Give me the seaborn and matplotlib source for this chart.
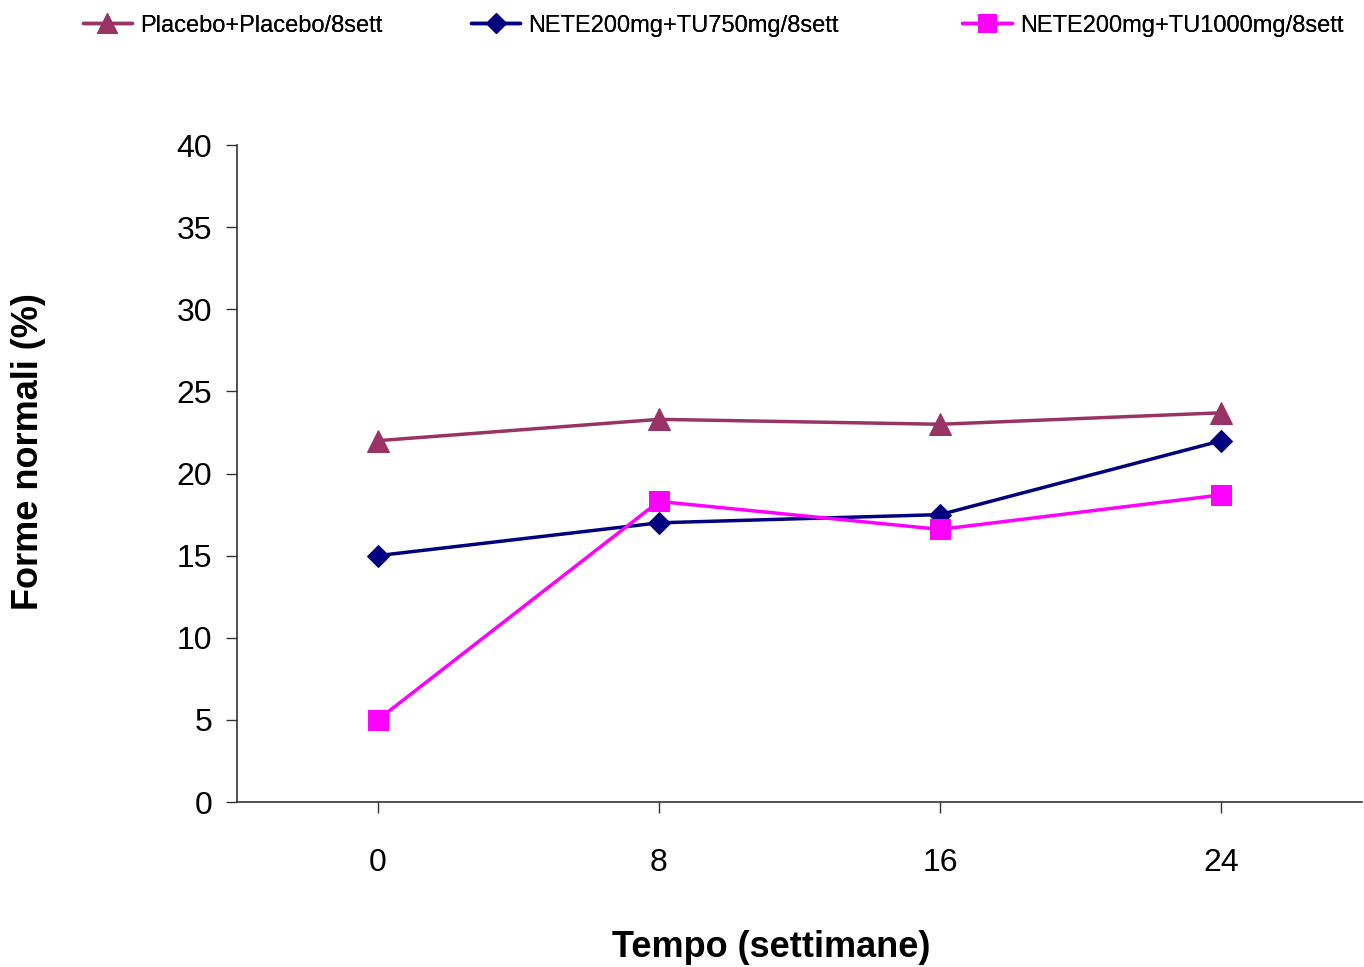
import matplotlib
matplotlib.use("Agg")
import matplotlib.pyplot as plt
import seaborn as sns
import pandas as pd

weeks = [0, 8, 16, 24]
series_names = ["Placebo+Placebo/8sett", "NETE200mg+TU750mg/8sett", "NETE200mg+TU1000mg/8sett"]
placebo = [22.0, 23.3, 23.0, 23.7]
nete750 = [15.0, 17.0, 17.5, 22.0]
nete1000 = [5.0, 18.3, 16.6, 18.7]
colors = ["#993366", "#000080", "#FF00FF"]
markers = ["^", "D", "s"]
msizes = [16, 11, 14]

rows = []
for name, vals in zip(series_names, [placebo, nete750, nete1000]):
    for w, v in zip(weeks, vals):
        rows.append({"Tempo": w, "Valore": v, "Serie": name})
df = pd.DataFrame(rows)

sns.set_style("white")
plt.rcParams["font.family"] = ["Liberation Sans", "DejaVu Sans"]
plt.rcParams["text.color"] = "black"
plt.rcParams["axes.labelcolor"] = "black"
plt.rcParams["xtick.color"] = "black"
plt.rcParams["ytick.color"] = "black"

fig = plt.figure(figsize=(13.64, 9.67), dpi=100)
ax = fig.add_axes([0.1738, 0.1706, 0.8247, 0.6794])

for name, c, m, ms in zip(series_names, colors, markers, msizes):
    sub = df[df["Serie"] == name]
    sns.lineplot(data=sub, x="Tempo", y="Valore", ax=ax, color=c, marker=m,
                 markersize=ms, markeredgecolor=c, linewidth=2.5, label=name,
                 legend=False)

ax.set_xlim(-4, 28)
ax.set_ylim(0, 40)
ax.set_yticks(range(0, 41, 5))
ax.set_xticks(weeks)
ax.set_xticklabels([str(w) for w in weeks])
for s in ["top", "right"]:
    ax.spines[s].set_visible(False)
for s in ["left", "bottom"]:
    ax.spines[s].set_color("#333333")
    ax.spines[s].set_linewidth(1.2)
ax.tick_params(axis="y", direction="out", length=8, width=1, color="#333333",
               labelsize=23, pad=10, left=True, labelcolor="black")
ax.tick_params(axis="x", direction="out", length=8, width=1, color="#333333",
               labelsize=23, pad=25, bottom=True, labelcolor="black")
ax.set_xlabel("Tempo (settimane)", fontsize=26, fontweight="bold", color="black")
ax.set_ylabel("Forme normali (%)", fontsize=26, fontweight="bold", color="black")
ax.xaxis.set_label_coords(0.475, -0.195)
ax.yaxis.set_label_coords(-0.170, 0.533)

handles, labels = ax.get_legend_handles_labels()
legend_x = [0.0484, 0.333, 0.6935]
for h, l, lx in zip(handles, labels, legend_x):
    leg = fig.legend([h], [l], loc="upper left", bbox_to_anchor=(lx, 1.002),
                     frameon=False, fontsize=17, handlelength=2.1,
                     handletextpad=0.35, markerscale=0.9, borderaxespad=0.3)
    fig.add_artist(leg)

fig.savefig("out.png", dpi=100)
